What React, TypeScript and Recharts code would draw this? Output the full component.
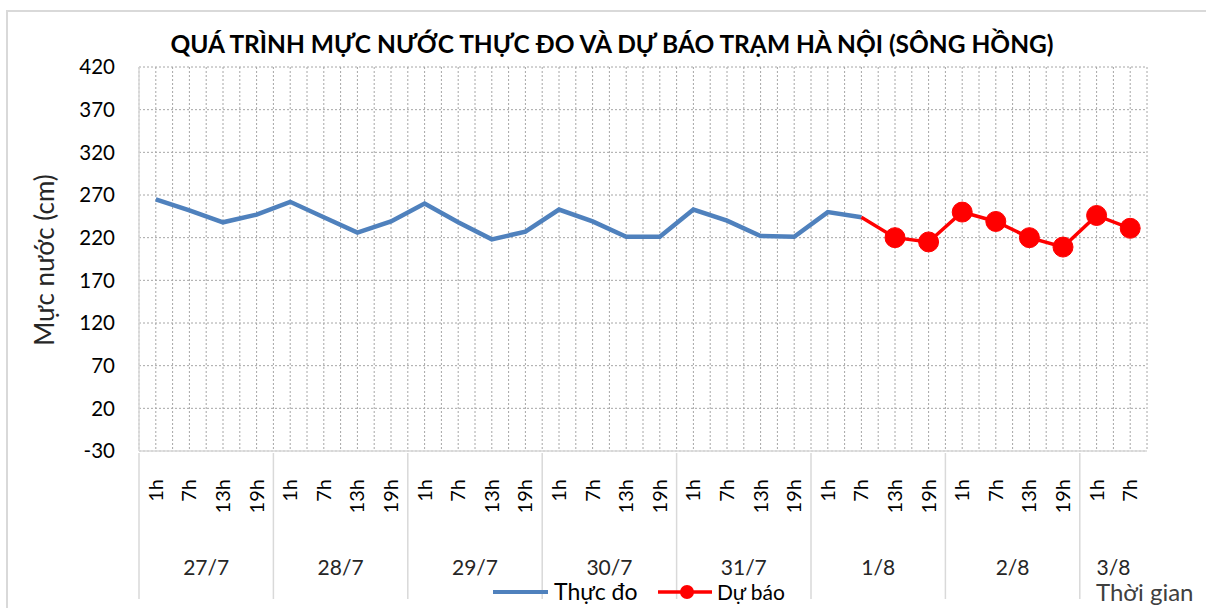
import React from 'react';
import { LineChart, Line, XAxis, YAxis, CartesianGrid, Legend } from 'recharts';

const FONT = 'Lato, "Open Sans", sans-serif';

const hours = [
  '1h', '7h', '13h', '19h', '1h', '7h', '13h', '19h',
  '1h', '7h', '13h', '19h', '1h', '7h', '13h', '19h',
  '1h', '7h', '13h', '19h', '1h', '7h', '13h', '19h',
  '1h', '7h', '13h', '19h', '1h', '7h',
];

const days = ['27/7', '28/7', '29/7', '30/7', '31/7', '1/8', '2/8', '3/8'];
const daySizes = [4, 4, 4, 4, 4, 4, 4, 2];

// Thực đo (measured)
const measured: (number | null)[] = [
  265, 252, 238, 247, 262, 244, 226, 239,
  260, 238, 218, 227, 253, 239, 221, 221,
  253, 240, 222, 221, 250, 244,
  null, null, null, null, null, null, null, null,
];

// Dự báo (forecast)
const forecast: (number | null)[] = [
  null, null, null, null, null, null, null, null,
  null, null, null, null, null, null, null, null,
  null, null, null, null, null, 244,
  220, 215, 250, 239, 220, 209, 246, 231,
];

const yTicks = [-30, 20, 70, 120, 170, 220, 270, 320, 370, 420];

const data = hours.map((h, i) => ({
  i,
  hour: h,
  measured: measured[i],
  forecast: forecast[i],
}));

// day groups: start index and centre position
const dayGroups = (() => {
  let start = 0;
  return days.map((d, k) => {
    const g = { label: d, start, center: start + (daySizes[k] - 1) / 2 };
    start += daySizes[k];
    return g;
  });
})();

// grid / tick positions every half category (centres + boundaries)
const xTicks: number[] = [];
for (let v = -0.5; v <= hours.length - 0.5; v += 0.5) xTicks.push(v);

const BLUE = '#4F81BD';
const RED = '#FF0000';

function HourTick(props: any) {
  const { x, y, payload } = props;
  const v: number = payload.value;
  const items: React.ReactNode[] = [];
  if (Number.isInteger(v)) {
    items.push(
      <text
        key="h"
        x={0}
        y={0}
        transform={`translate(${x + 7},${y + 26}) rotate(-90)`}
        textAnchor="end"
        fontSize={20}
        fontFamily={FONT}
        fill="#000"
      >
        {hours[v]}
      </text>
    );
  }
  const startGroup = dayGroups.find((g) => g.start - 0.5 === v);
  if (startGroup) {
    items.push(<line key="s" x1={x} x2={x} y1={y} y2={y + 146} stroke="#d9d9d9" strokeWidth={1.5} />);
  }
  const centerGroup = dayGroups.find((g) => g.center === v);
  if (centerGroup) {
    items.push(
      <text key="d" x={x} y={y + 122} textAnchor="middle" fontSize={21} fontFamily={FONT} fill="#262626">
        {centerGroup.label}
      </text>
    );
  }
  return <g>{items}</g>;
}

function ForecastDot(props: any) {
  const { cx, cy, index, value } = props;
  if (value == null || index === 21) return <g key={`d${index}`} />;
  return <circle key={`d${index}`} cx={cx} cy={cy} r={10} fill={RED} stroke={RED} />;
}

function LegendBox() {
  return (
    <div style={{ position: 'relative', width: 320, height: 30, fontFamily: FONT }}>
      <svg width={320} height={30} style={{ position: 'absolute', left: 0, top: 0 }}>
        <line x1={2} x2={57} y1={14} y2={14} stroke={BLUE} strokeWidth={4} />
        <text x={63} y={22} fontSize={23} fill="#000" fontFamily={FONT}>Thực đo</text>
        <line x1={167} x2={221} y1={14} y2={14} stroke={RED} strokeWidth={3.5} />
        <circle cx={196} cy={14} r={7} fill={RED} />
        <text x={226} y={22} fontSize={21} fill="#000" fontFamily={FONT}>Dự báo</text>
      </svg>
    </div>
  );
}

export default function App() {
  return (
    <div style={{ position: 'absolute', left: 0, top: 0, width: 1206, height: 608, background: '#fff', overflow: 'hidden', fontFamily: FONT }}>
      <div style={{ position: 'absolute', left: 6, top: 10, width: 1300, height: 700, borderLeft: '2px solid #d9d9d9', borderTop: '2px solid #d9d9d9' }} />
      <div style={{ position: 'absolute', left: 0, top: 29, width: 1224, textAlign: 'center', fontSize: 24.5, fontWeight: 700, color: '#000' }}>
        QUÁ TRÌNH MỰC NƯỚC THỰC ĐO VÀ DỰ BÁO TRẠM HÀ NỘI (SÔNG HỒNG)
      </div>
      <div style={{ position: 'absolute', left: 44, top: 260, transform: 'translate(-50%,-50%) rotate(-90deg)', whiteSpace: 'nowrap', fontSize: 26, color: '#262626' }}>
        Mực nước (cm)
      </div>
      <div style={{ position: 'absolute', left: 1096, top: 580, fontSize: 24, lineHeight: '24px', color: '#404040' }}>Thời gian</div>
      <div style={{ position: 'absolute', left: 0, top: 0 }}>
        <LineChart width={1206} height={608} data={data} margin={{ top: 67, right: 59, left: 79, bottom: 10 }}>
          <CartesianGrid stroke="#a6a6a6" strokeDasharray="2 2" horizontalValues={yTicks} verticalValues={xTicks} />
          <XAxis
            dataKey="i"
            type="number"
            domain={[-0.5, hours.length - 0.5]}
            ticks={xTicks}
            interval={0}
            height={117}
            tickLine={false}
            tickSize={0}
            axisLine={{ stroke: '#d9d9d9', strokeWidth: 1.5 }}
            tick={<HourTick />}
          />
          <YAxis
            domain={[-30, 420]}
            ticks={yTicks}
            interval={0}
            width={60}
            tickLine={false}
            tickSize={0}
            tickMargin={24}
            axisLine={{ stroke: '#d9d9d9', strokeWidth: 1.5 }}
            tick={{ fontSize: 20.5, fill: '#000', fontFamily: FONT }}
          />
          <Legend
            verticalAlign="bottom"
            content={() => <LegendBox />}
            wrapperStyle={{ position: 'absolute', left: 491, top: 578, width: 320, bottom: 'auto' }}
          />
          <Line
            type="linear"
            dataKey="measured"
            name="Thực đo"
            stroke={BLUE}
            strokeWidth={4.5}
            dot={false}
            connectNulls={false}
            isAnimationActive={false}
          />
          <Line
            type="linear"
            dataKey="forecast"
            name="Dự báo"
            stroke={RED}
            strokeWidth={3.5}
            dot={<ForecastDot />}
            activeDot={false}
            connectNulls={false}
            isAnimationActive={false}
          />
        </LineChart>
      </div>
    </div>
  );
}
